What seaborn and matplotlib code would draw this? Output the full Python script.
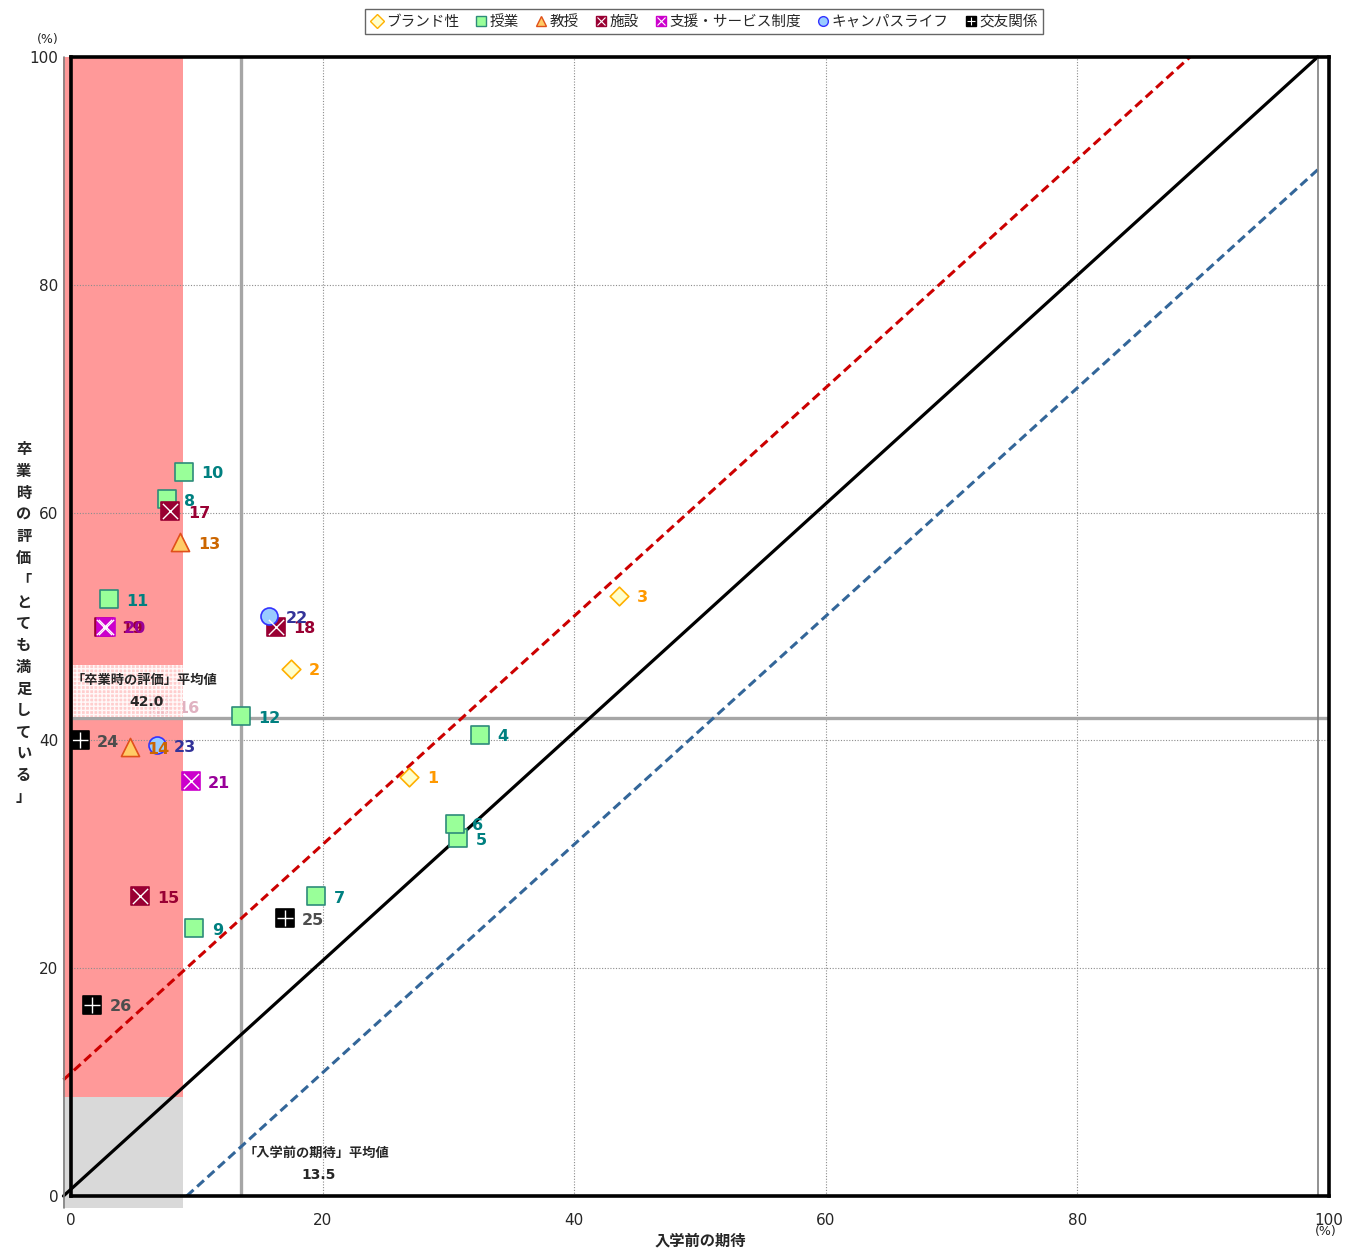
import numpy as np
import pandas as pd
import matplotlib
matplotlib.use("Agg")
import matplotlib.pyplot as plt
from matplotlib.patches import Rectangle
from matplotlib.lines import Line2D
import seaborn as sns

sns.set_style("white")
plt.rcParams["font.family"] = ["DejaVu Sans", "Noto Sans CJK JP"]

# ---- data ----
ids = [1, 2, 3, 4, 5, 6, 7, 8, 9, 10, 11, 12, 13, 14, 15, 16, 17, 18, 19, 20, 21, 22, 23, 24, 25, 26]
expect = [26.9, 17.5, 43.6, 32.5, 30.8, 30.5, 19.5, 7.6, 9.8, 9.0, 3.0, 13.5, 8.7, 4.7,
          5.5, 7.1, 7.9, 16.3, 2.6, 2.8, 9.5, 15.7, 6.8, 0.7, 17.0, 1.7]
satisfied = [36.8, 46.3, 52.7, 40.5, 31.4, 32.7, 26.3, 61.2, 23.5, 63.6, 52.4, 42.1, 57.4, 39.4,
             26.3, 43.0, 60.1, 50.0, 50.0, 50.0, 36.4, 50.9, 39.6, 40.0, 24.4, 16.8]
category = ["ブランド性"] * 3 + ["授業"] * 9 + ["教授"] * 2 + ["施設"] * 5 + ["支援・サービス制度"] * 2 + \
           ["キャンパスライフ"] * 2 + ["交友関係"] * 3
faded_ids = [16]   # drawn pale in the original (behind the mean box)

categories = ["ブランド性", "授業", "教授", "施設", "支援・サービス制度", "キャンパスライフ", "交友関係"]
markers = ["D", "s", "^", "s", "s", "o", "s"]
face_colors = ["#FFFFCC", "#99FF99", "#FFCC66", "#990033", "#CC00CC", "#99CCFF", "#000000"]
edge_colors = ["#FFB000", "#2E8B7A", "#E0501A", "#990033", "#CC00CC", "#3333FF", "#000000"]
overlay = [None, None, None, "x", "x", None, "+"]
label_colors = ["#FF9900", "#008080", "#CC6600", "#990033", "#990099", "#333399", "#4D4D4D"]
marker_sizes = [90, 150, 170, 160, 160, 150, 160]

mean_expect = 13.5
mean_satisfied = 42.0

# reference lines (start / end points in chart units)
diag_x = [-0.6, 99.1]
diag_y = [0, 100]
upper_x = [-0.6, 88.95]
upper_y = [10.2, 100]
lower_x = [9.2, 99.1]
lower_y = [0, 90.1]

df = pd.DataFrame({"id": ids, "x": expect, "y": satisfied, "cat": category})

fig = plt.figure(figsize=(13.54, 12.5), dpi=100)
ax = fig.add_axes([0.05244, 0.0432, 0.9291, 0.9112])
ax.set_xlim(0, 100)
ax.set_ylim(0, 100)

# shaded zones
ax.add_patch(Rectangle((-0.6, 8.7), 9.5, 91.3, facecolor="#FF9999", edgecolor="none",
                       zorder=1, clip_on=False))
ax.add_patch(Rectangle((-0.6, -1.05), 9.5, 9.75, facecolor="#D9D9D9", edgecolor="none",
                       zorder=1, clip_on=False))

# grid
for v in [20, 40, 60, 80]:
    ax.axvline(v, color="#8C8C8C", lw=0.8, ls=(0, (1, 1.5)), zorder=2)
    ax.axhline(v, color="#8C8C8C", lw=0.8, ls=(0, (1, 1.5)), zorder=2)

# mean lines
ax.axvline(mean_expect, color="#A6A6A6", lw=2.4, zorder=3)
ax.axhline(mean_satisfied, color="#A6A6A6", lw=2.4, zorder=3)

# reference diagonals
ax.plot(diag_x, diag_y, color="black", lw=2.3, zorder=3, clip_on=False)
ax.plot(upper_x, upper_y, color="#CC0000", lw=2.2, ls=(0, (3, 1.6)), zorder=3, clip_on=False)
ax.plot(lower_x, lower_y, color="#336699", lw=2.2, ls=(0, (3, 1.6)), zorder=3, clip_on=False)

# inner frame lines
ax.add_line(Line2D([-0.56, -0.56], [-1.05, 100], color="#7F7F7F", lw=1.2, clip_on=False, zorder=4))
ax.add_line(Line2D([99.13, 99.13], [0, 100], color="#7F7F7F", lw=1.2, clip_on=False, zorder=4))

# points
handles = []
for i, cat in enumerate(categories):
    sub = df[df["cat"] == cat]
    sns.scatterplot(data=sub, x="x", y="y", marker=markers[i], s=marker_sizes[i],
                    color=face_colors[i], edgecolor=edge_colors[i], linewidth=1.2,
                    ax=ax, zorder=5, legend=False)
    h = Line2D([], [], marker=markers[i], ls="none", markersize=7,
               markerfacecolor=face_colors[i], markeredgecolor=edge_colors[i])
    if overlay[i]:
        ax.scatter(sub["x"], sub["y"], marker=overlay[i], s=marker_sizes[i] * 0.75,
                   color="white", linewidths=1.0, zorder=6)
        h2 = Line2D([], [], marker=overlay[i], ls="none", markersize=6,
                    markeredgecolor="white", markeredgewidth=0.8)
        h = (h, h2)
    handles.append(h)
    for _, r in sub.iterrows():
        ax.annotate(str(r["id"]), (r["x"], r["y"]), xytext=(12.5, -1.5),
                    textcoords="offset points", va="center", ha="left",
                    fontsize=11.5, fontweight="bold", color=label_colors[i], zorder=7,
                    alpha=0.3 if r["id"] in faded_ids else 1.0)

# mean annotation boxes
ax.add_patch(Rectangle((0.15, 42.05), 8.75, 4.55, facecolor="#FFD6D6", edgecolor="white",
                       hatch="++++", lw=0, alpha=0.88, zorder=8))
ax.text(5.8, 45.3, "「卒業時の評価」平均値", ha="center", va="center", fontsize=9.5,
        fontweight="bold", zorder=9)
ax.text(6.0, 43.4, f"{mean_satisfied:.1f}", ha="center", va="center", fontsize=10,
        fontweight="bold", zorder=9)
ax.text(19.5, 3.7, "「入学前の期待」平均値", ha="center", va="center", fontsize=9.5,
        fontweight="bold", zorder=9)
ax.text(19.7, 1.8, f"{mean_expect:.1f}", ha="center", va="center", fontsize=10,
        fontweight="bold", zorder=9)

# axes styling
for sp in ax.spines.values():
    sp.set_color("black")
    sp.set_linewidth(2.6)
    sp.set_zorder(10)
ax.set_xticks([0, 20, 40, 60, 80, 100])
ax.set_yticks([0, 20, 40, 60, 80, 100])
ax.tick_params(axis="both", length=0, labelsize=11, labelcolor="#262626")
ax.tick_params(axis="x", pad=12)
ax.tick_params(axis="y", pad=9)
ax.set_xlabel("")
ax.set_ylabel("")

fig.text(0.517, 0.0075, "入学前の期待", ha="center", va="center", fontsize=11, fontweight="bold")
ylab = "卒\n業\n時\nの\n評\n価\n「\nと\nて\nも\n満\n足\nし\nて\nい\nる\n」"
fig.text(0.0175, 0.501, ylab, ha="center", va="center", fontsize=11, fontweight="bold",
         linespacing=1.56)
fig.text(0.0355, 0.968, "(%)", ha="center", va="center", fontsize=9, color="#262626")
fig.text(0.979, 0.0144, "(%)", ha="center", va="center", fontsize=9, color="#262626")

leg = fig.legend(handles, categories, loc="center", bbox_to_anchor=(0.52, 0.983), ncol=7,
                 frameon=True, fancybox=False, edgecolor="#404040", fontsize=10.5,
                 handletextpad=0.1, columnspacing=1.0, handlelength=1.0, borderpad=0.35)
leg.get_frame().set_linewidth(1.0)

fig.savefig("out.png", dpi=100)
